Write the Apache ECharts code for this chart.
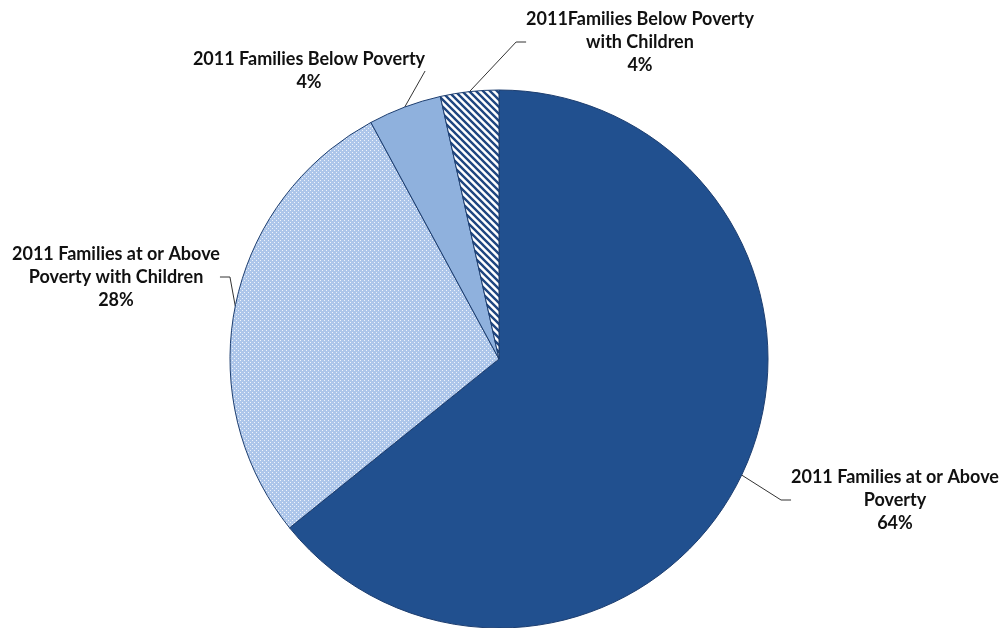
<!DOCTYPE html>
<html>
<head>
<meta charset="utf-8">
<script src="https://cdn.jsdelivr.net/npm/echarts@6/dist/echarts.min.js"></script>
<style>
  html, body { margin: 0; padding: 0; background: #ffffff; }
  #chart { width: 1005px; height: 628px; }
</style>
</head>
<body>
<div id="chart"></div>
<script>
// Family counts by poverty status, 2011 (share of all families, %)
const categories = [
  '2011 Families at or Above\nPoverty',
  '2011 Families at or Above\nPoverty with Children',
  '2011 Families Below Poverty',
  '2011Families Below Poverty\nwith Children'
];
const shares = [64.2, 27.9, 4.4, 3.5];

// Where each slice label sits (label centre, px)
const labelSpots = [
  [895, 500],
  [116, 277],
  [309, 71],
  [640, 42]
];

// Fill patterns
function dotTile() {
  const c = document.createElement('canvas');
  c.width = 4; c.height = 4;
  const g = c.getContext('2d');
  g.fillStyle = '#adc6ea';
  g.fillRect(0, 0, 4, 4);
  g.fillStyle = '#eef3fb';
  g.fillRect(0, 0, 1, 1);
  g.fillRect(2, 2, 1, 1);
  return c;
}
function hatchTile() {
  const s = 7;
  const c = document.createElement('canvas');
  c.width = s; c.height = s;
  const g = c.getContext('2d');
  g.fillStyle = '#ffffff';
  g.fillRect(0, 0, s, s);
  g.strokeStyle = '#1f4680';
  g.lineWidth = 2.4;
  g.beginPath();
  g.moveTo(-1, -1); g.lineTo(s + 1, s + 1);
  g.moveTo(-2, s - 2); g.lineTo(2, s + 2);
  g.moveTo(s - 2, -2); g.lineTo(s + 2, 2);
  g.stroke();
  return c;
}

const fills = [
  '#21508f',
  { image: dotTile(), repeat: 'repeat' },
  '#8fb1dd',
  { image: hatchTile(), repeat: 'repeat' }
];

const chart = echarts.init(document.getElementById('chart'), null, { renderer: 'canvas' });
chart.setOption({
  backgroundColor: '#ffffff',
  animation: false,
  series: [{
    type: 'pie',
    center: [499, 359],
    radius: 269,
    startAngle: 90,
    clockwise: true,
    avoidLabelOverlap: false,
    itemStyle: { borderColor: '#1d3e70', borderWidth: 1 },
    label: {
      show: true,
      color: '#111111',
      fontFamily: 'Lato',
      fontWeight: 'bold',
      fontSize: 18,
      lineHeight: 23,
      align: 'center',
      formatter: p => p.name + '\n' + Math.round(p.percent) + '%'
    },
    labelLine: {
      show: true,
      length: 20,
      length2: 10,
      lineStyle: { color: '#333333', width: 1 }
    },
    labelLayout: p => {
      const spot = labelSpots[p.dataIndex];
      return { x: spot[0], y: spot[1], align: 'center', verticalAlign: 'middle' };
    },
    data: categories.map((name, i) => ({
      name: name,
      value: shares[i],
      itemStyle: { color: fills[i] }
    }))
  }]
});
</script>
</body>
</html>
